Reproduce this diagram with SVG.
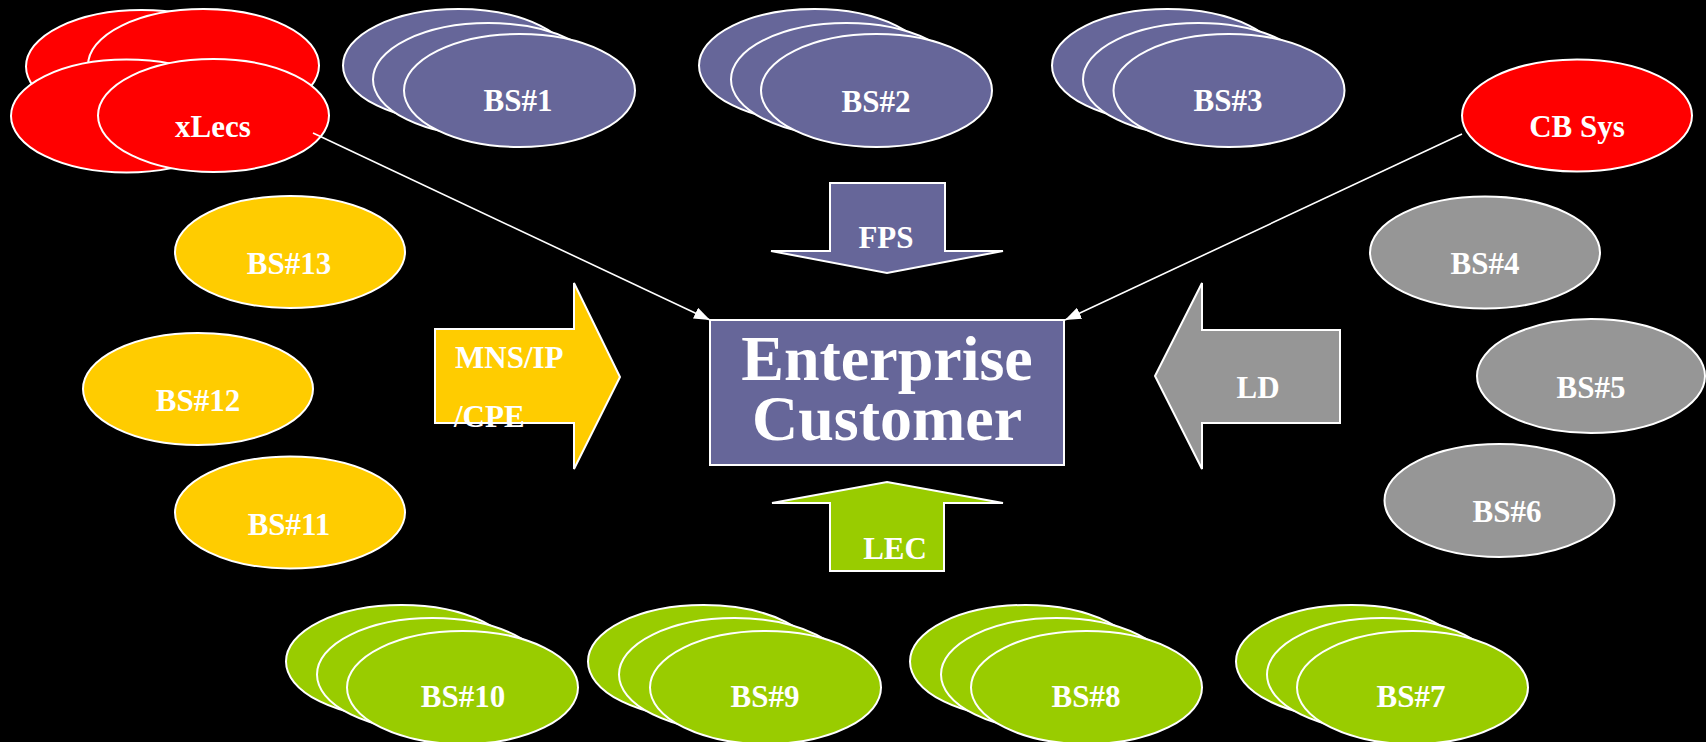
<svg xmlns="http://www.w3.org/2000/svg" width="1706" height="742" viewBox="0 0 1706 742">
  <style>
    .oval { stroke: #ffffff; stroke-width: 2; }
    .red { fill: #ff0000; }
    .purple { fill: #666699; }
    .yellow { fill: #ffcc00; }
    .gray { fill: #969696; }
    .green { fill: #99cc00; }
    .lbl { font-family: "Liberation Serif", "Times New Roman", serif; font-weight: bold; font-size: 31px; fill: #ffffff; text-anchor: middle; }
    .big { font-size: 64px; }
    .left { text-anchor: start; }
    .link { stroke: #ffffff; stroke-width: 1.6; fill: none; }
  </style>
  <defs>
    <marker id="head" markerUnits="userSpaceOnUse" markerWidth="16" markerHeight="12" refX="16" refY="6" orient="auto">
      <path d="M0,0 L16,6 L0,12 Z" fill="#ffffff"/>
    </marker>
  </defs>
  <rect x="0" y="0" width="1706" height="742" fill="#000000"/>

  <!-- top row -->
  <g id="xlecs">
    <ellipse class="oval red" cx="141.5" cy="66.5" rx="115.5" ry="56.5"/>
    <ellipse class="oval red" cx="203.5" cy="65.5" rx="115.5" ry="56.5"/>
    <ellipse class="oval red" cx="126.5" cy="116" rx="115.5" ry="56.5"/>
    <ellipse class="oval red" cx="213.5" cy="115.5" rx="115.5" ry="56.5"/>
    <text class="lbl" x="213" y="137">xLecs</text>
  </g>
  <g id="bs1">
    <ellipse class="oval purple" cx="458.5" cy="65.5" rx="115.5" ry="56.5"/>
    <ellipse class="oval purple" cx="488.5" cy="79.5" rx="115.5" ry="56.5"/>
    <ellipse class="oval purple" cx="519.5" cy="90.5" rx="115.5" ry="56.5"/>
    <text class="lbl" x="518" y="111">BS#1</text>
  </g>
  <g id="bs2">
    <ellipse class="oval purple" cx="814.5" cy="65.5" rx="115.5" ry="56.5"/>
    <ellipse class="oval purple" cx="846.5" cy="79.5" rx="115.5" ry="56.5"/>
    <ellipse class="oval purple" cx="876.5" cy="90.5" rx="115.5" ry="56.5"/>
    <text class="lbl" x="876" y="112">BS#2</text>
  </g>
  <g id="bs3">
    <ellipse class="oval purple" cx="1167.5" cy="65.5" rx="115.5" ry="56.5"/>
    <ellipse class="oval purple" cx="1198.5" cy="79.5" rx="115.5" ry="56.5"/>
    <ellipse class="oval purple" cx="1229" cy="90.5" rx="115.5" ry="56.5"/>
    <text class="lbl" x="1228" y="111">BS#3</text>
  </g>
  <g id="cbsys">
    <ellipse class="oval red" cx="1577" cy="115.5" rx="115" ry="56"/>
    <text class="lbl" x="1577" y="137">CB Sys</text>
  </g>

  <!-- left column -->
  <g id="bs13">
    <ellipse class="oval yellow" cx="290" cy="252" rx="115" ry="56"/>
    <text class="lbl" x="289" y="274">BS#13</text>
  </g>
  <g id="bs12">
    <ellipse class="oval yellow" cx="198" cy="389" rx="115" ry="56"/>
    <text class="lbl" x="198" y="411">BS#12</text>
  </g>
  <g id="bs11">
    <ellipse class="oval yellow" cx="290" cy="512.5" rx="115" ry="56"/>
    <text class="lbl" x="289" y="535">BS#11</text>
  </g>

  <!-- right column -->
  <g id="bs4">
    <ellipse class="oval gray" cx="1485" cy="252.5" rx="115" ry="56"/>
    <text class="lbl" x="1485" y="274">BS#4</text>
  </g>
  <g id="bs5">
    <ellipse class="oval gray" cx="1591" cy="376" rx="114" ry="57"/>
    <text class="lbl" x="1591" y="398">BS#5</text>
  </g>
  <g id="bs6">
    <ellipse class="oval gray" cx="1499.5" cy="500.5" rx="115" ry="56.5"/>
    <text class="lbl" x="1507" y="522">BS#6</text>
  </g>

  <!-- bottom row -->
  <g id="bs10">
    <ellipse class="oval green" cx="401.5" cy="661.5" rx="115.5" ry="56.5"/>
    <ellipse class="oval green" cx="432.5" cy="674.5" rx="115.5" ry="56.5"/>
    <ellipse class="oval green" cx="462.5" cy="687.5" rx="115.5" ry="56.5"/>
    <text class="lbl" x="463" y="707">BS#10</text>
  </g>
  <g id="bs9">
    <ellipse class="oval green" cx="703.5" cy="661.5" rx="115.5" ry="56.5"/>
    <ellipse class="oval green" cx="734.5" cy="674.5" rx="115.5" ry="56.5"/>
    <ellipse class="oval green" cx="765.5" cy="687.5" rx="115.5" ry="56.5"/>
    <text class="lbl" x="765" y="707">BS#9</text>
  </g>
  <g id="bs8">
    <ellipse class="oval green" cx="1025.5" cy="661.5" rx="115.5" ry="56.5"/>
    <ellipse class="oval green" cx="1056.5" cy="674.5" rx="115.5" ry="56.5"/>
    <ellipse class="oval green" cx="1086.5" cy="687.5" rx="115.5" ry="56.5"/>
    <text class="lbl" x="1086" y="707">BS#8</text>
  </g>
  <g id="bs7">
    <ellipse class="oval green" cx="1351.5" cy="661.5" rx="115.5" ry="56.5"/>
    <ellipse class="oval green" cx="1382.5" cy="674.5" rx="115.5" ry="56.5"/>
    <ellipse class="oval green" cx="1412.5" cy="687.5" rx="115.5" ry="56.5"/>
    <text class="lbl" x="1411" y="707">BS#7</text>
  </g>

  <!-- block arrows -->
  <g id="fps">
    <path class="oval purple" d="M830,183 H945 V251 H1003 L887,273 L771,251 H830 Z"/>
    <text class="lbl" x="886" y="248">FPS</text>
  </g>
  <g id="lec">
    <path class="oval green" d="M887,482 L1003,503 H944 V571 H830 V503 H772 Z"/>
    <text class="lbl" x="895" y="559">LEC</text>
  </g>
  <g id="mns">
    <path class="oval yellow" d="M435,329 H574 V283 L620,377 L574,469 V423 H435 Z"/>
    <text class="lbl left" x="455" y="368">MNS/IP</text>
    <text class="lbl left" x="454" y="427">/CPE</text>
  </g>
  <g id="ld">
    <path class="oval gray" d="M1155,376 L1202,283 V330 H1340 V423 H1202 V469 Z"/>
    <text class="lbl" x="1258" y="398">LD</text>
  </g>

  <!-- central box -->
  <g id="enterprise">
    <rect class="oval purple" x="710" y="320" width="354" height="145"/>
    <text class="lbl big" x="887" y="380">Enterprise</text>
    <text class="lbl big" x="887" y="440">Customer</text>
  </g>

  <!-- connectors -->
  <g id="connectors">
    <line class="link" x1="313" y1="133" x2="710" y2="320" marker-end="url(#head)"/>
    <line class="link" x1="1462" y1="134" x2="1065" y2="320" marker-end="url(#head)"/>
  </g>
</svg>
